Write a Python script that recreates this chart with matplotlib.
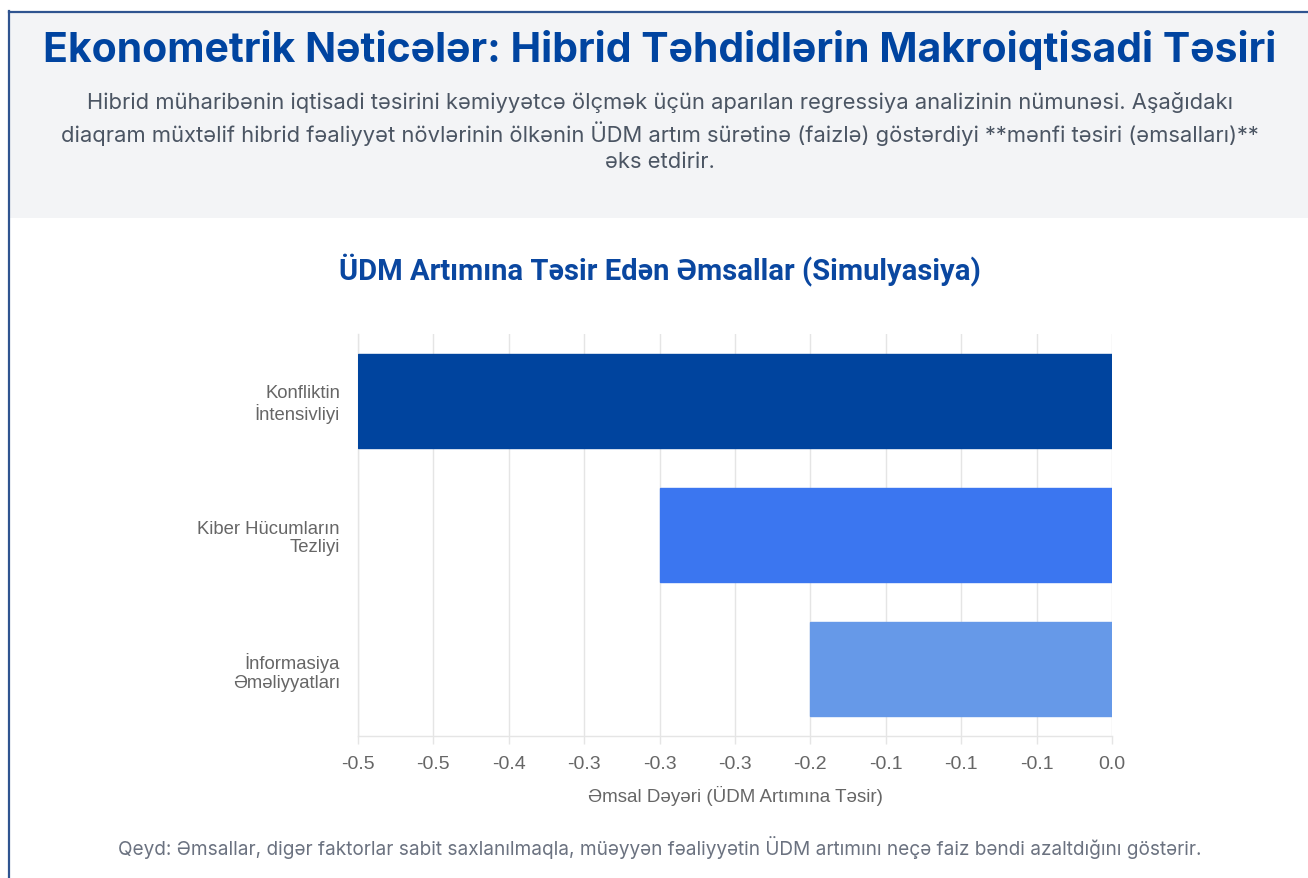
import matplotlib
matplotlib.use("Agg")
import matplotlib.pyplot as plt
from matplotlib.patches import Rectangle

# data
categories = ["Konfliktin\nİntensivliyi", "Kiber Hücumların\nTezliyi", "İnformasiya\nƏməliyyatları"]
coefficients = [-0.5, -0.3, -0.2]
bar_colors = ["#00449e", "#3b76f0", "#6699e8"]
tick_values = [-0.5, -0.45, -0.4, -0.35, -0.3, -0.25, -0.2, -0.15, -0.1, -0.05, 0.0]
tick_labels = ["-0.5", "-0.5", "-0.4", "-0.3", "-0.3", "-0.3", "-0.2", "-0.1", "-0.1", "-0.1", "0.0"]

W, H = 1308, 879
fig = plt.figure(figsize=(W / 100, H / 100), dpi=100)
fig.patch.set_facecolor("white")

def fx(px):
    return px / W

def fy(py):
    return 1 - py / H

# header panel and frame
fig.patches.append(Rectangle((fx(9), fy(219)), 1 - fx(9), fy(13) - fy(219),
                             transform=fig.transFigure, facecolor="#f3f4f6", edgecolor="none", zorder=0))
fig.add_artist(plt.Line2D([fx(9), fx(9)], [0, fy(12)], transform=fig.transFigure, color="#2f5490", lw=1.6))
fig.add_artist(plt.Line2D([fx(9), 1], [fy(12.5), fy(12.5)], transform=fig.transFigure, color="#2f5490", lw=1.6))

fig.text(fx(660), fy(50), "Ekonometrik Nəticələr: Hibrid Təhdidlərin Makroiqtisadi Təsiri",
         ha="center", va="center", fontsize=29.5, fontweight="bold", color="#0044a0", family="Inter")
subtitle = ("Hibrid müharibənin iqtisadi təsirini kəmiyyətcə ölçmək üçün aparılan regressiya analizinin nümunəsi. Aşağıdakı\n"
            "diaqram müxtəlif hibrid fəaliyyət növlərinin ölkənin ÜDM artım sürətinə (faizlə) göstərdiyi **mənfi təsiri (əmsalları)**\n"
            "əks etdirir.")
fig.text(fx(660), fy(132), subtitle, ha="center", va="center", fontsize=15.8, color="#4b5563",
         family="Inter", linespacing=1.4)

fig.text(fx(660), fy(270), "ÜDM Artımına Təsir Edən Əmsallar (Simulyasiya)", ha="center", va="center",
         fontsize=21, fontweight="bold", color="#0a47a0", family="Roboto")

ax = fig.add_axes([fx(358), fy(737), fx(1112) - fx(358), fy(334.5) - fy(737)])
y_pos = list(range(len(categories)))
ax.barh(y_pos, coefficients, height=0.7, color=bar_colors, edgecolor=bar_colors,
        linewidth=1, zorder=3)
ax.set_xlim(-0.5, 0.0)
ax.set_ylim(len(categories) - 0.5, -0.5)
ax.set_yticks(y_pos)
ax.set_yticklabels(categories, family="Liberation Sans", fontsize=13.3, color="#666666", linespacing=1.1)
ax.set_xticks(tick_values)
ax.set_xticklabels(tick_labels, family="Liberation Sans", fontsize=14, color="#666666")
ax.tick_params(axis="x", length=6, color="#e5e5e5", width=1, pad=8)
ax.tick_params(axis="y", length=0, pad=13)
ax.grid(axis="x", color="#e5e5e5", lw=1, zorder=0)
for side in ["top", "right"]:
    ax.spines[side].set_visible(False)
for side in ["left", "bottom"]:
    ax.spines[side].set_color("#e5e5e5")
    ax.spines[side].set_linewidth(1)
ax.set_xlabel("Əmsal Dəyəri (ÜDM Artımına Təsir)", family="Liberation Sans", fontsize=13.5,
              color="#666666", labelpad=9)

fig.text(fx(660), fy(848), "Qeyd: Əmsallar, digər faktorlar sabit saxlanılmaqla, müəyyən fəaliyyətin ÜDM artımını neçə faiz bəndi azaltdığını göstərir.",
         ha="center", va="center", fontsize=13.7, color="#6b7280", family="Inter")

fig.savefig("out.png", dpi=100)
